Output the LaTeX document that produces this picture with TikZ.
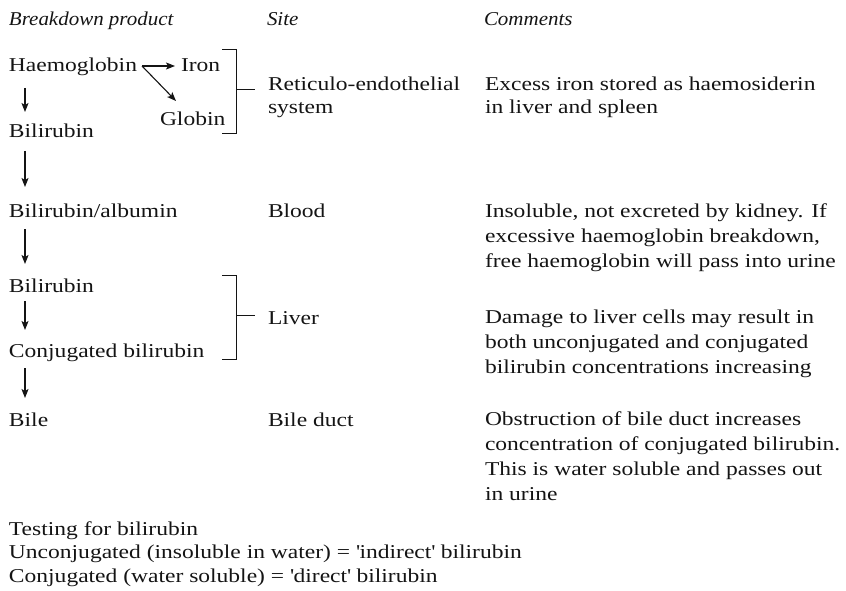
\documentclass[tikz,border=0pt]{standalone}
\usepackage{fontspec}
\setmainfont{Liberation Serif}[UprightFeatures={FakeStretch=1.2},ItalicFeatures={FakeStretch=1.07}]
\usetikzlibrary{arrows.meta,calc}
\definecolor{ink}{gray}{0.08}
% left-aligned lines whose baseline is that of the first line
\newcommand\textlines[2]{\vtop{\baselineskip=#1pt\halign{##\hfil\cr#2\crcr}}}
\begin{document}
\begin{tikzpicture}[x=1pt,y=-1pt,
  every node/.style={inner sep=0pt,outer sep=0pt,text=ink,anchor=base west,
    font=\fontsize{19.6}{25}\selectfont},
  head/.style={font=\fontsize{19.6}{25}\selectfont\itshape},
  arr/.style={draw=ink,line width=1.1pt,-{Stealth[length=9pt,width=7pt,inset=2pt]}},
  brk/.style={draw=ink,line width=1pt}]
\useasboundingbox (0,0) rectangle (846,591);

% column headings
\node[head] (hprod) at (9,26) {Breakdown product};
\node[head] (hsite) at (267,26) {Site};
\node[head] (hcom) at (484,26) {Comments};

% breakdown chain
\node (hb) at (9,72) {Haemoglobin};
\node (iron) at (181,72) {Iron};
\node (globin) at (160,126) {Globin};
\node (bil1) at (9,138) {Bilirubin};
\node (ba) at (9,217) {Bilirubin/albumin};
\node (bil2) at (9,292) {Bilirubin};
\node (conj) at (9,357) {Conjugated bilirubin};
\node (bile) at (9,426) {Bile};

% sites
\node (re) at (268,91) {\textlines{22.5}{Reticulo-endothelial\cr system}};
\node (blood) at (268,217) {Blood};
\node (liver) at (268,324) {Liver};
\node (duct) at (268,426) {Bile duct};

% comments
\node (c1) at (485,91) {\textlines{22.5}{Excess iron stored as haemosiderin\cr in liver and spleen}};
\node (c2) at (485,217) {\textlines{25}{Insoluble, not excreted by kidney. If\cr excessive haemoglobin breakdown,\cr free haemoglobin will pass into urine}};
\node (c3) at (485,323) {\textlines{25}{Damage to liver cells may result in\cr both unconjugated and conjugated\cr bilirubin concentrations increasing}};
\node (c4) at (485,425) {\textlines{25}{Obstruction of bile duct increases\cr concentration of conjugated bilirubin.\cr This is water soluble and passes out\cr in urine}};

% footnote on testing
\node (test) at (9,535) {\textlines{23.5}{Testing for bilirubin\cr Unconjugated (insoluble in water) = \textquotesingle indirect\textquotesingle\ bilirubin\cr Conjugated (water soluble) = \textquotesingle direct\textquotesingle\ bilirubin}};

% arrows down the chain
\draw[arr] ($(hb.base west)+(16,16)$) -- ($(bil1.base west)+(16,-26)$);
\draw[arr] ($(bil1.base west)+(16,13)$) -- ($(ba.base west)+(16,-30)$);
\draw[arr] ($(ba.base west)+(16,12)$) -- ($(bil2.base west)+(16,-28)$);
\draw[arr] ($(bil2.base west)+(16,9)$) -- ($(conj.base west)+(16,-27)$);
\draw[arr] ($(conj.base west)+(16,11)$) -- ($(bile.base west)+(16,-28)$);

% haemoglobin splits into iron and globin
\coordinate (fork) at ($(hb.base east)+(5,-6)$);
\draw[arr] (fork) -- ($(iron.base west)+(-6,-6)$);
\draw[arr] (fork) -- ($(globin.base west)+(16,-25)$);

% brackets grouping the steps by site
\coordinate (reTop) at (222,50);
\coordinate (reBot) at (236,134);
\coordinate (reMid) at (236,90);
\draw[brk] (reTop) -| (reBot) -- (222,134);
\draw[brk] (reMid) -- ($(re.base west)+(-13,-1)$);

\coordinate (lvTop) at (222,275);
\coordinate (lvBot) at (236,359);
\coordinate (lvMid) at (236,315);
\draw[brk] (lvTop) -| (lvBot) -- (222,359);
\draw[brk] (lvMid) -- ($(liver.base west)+(-13,-9)$);
\end{tikzpicture}
\end{document}
